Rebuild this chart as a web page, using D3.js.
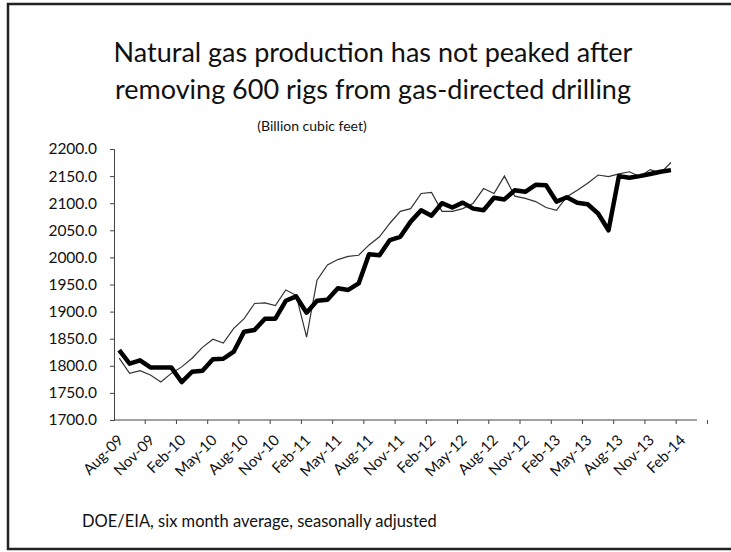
<!DOCTYPE html>
<html>
<head>
<meta charset="utf-8">
<script src="https://cdn.jsdelivr.net/npm/d3@7"></script>
<style>
  body { margin: 0; background: #fff; }
  svg text { font-family: Lato, "Open Sans", sans-serif; fill: #111; }
</style>
</head>
<body>
<div id="chart"></div>
<script>
const months = [
    "Aug-09", "Sep-09", "Oct-09", "Nov-09", "Dec-09", "Jan-10", "Feb-10", "Mar-10",
    "Apr-10", "May-10", "Jun-10", "Jul-10", "Aug-10", "Sep-10", "Oct-10", "Nov-10",
    "Dec-10", "Jan-11", "Feb-11", "Mar-11", "Apr-11", "May-11", "Jun-11", "Jul-11",
    "Aug-11", "Sep-11", "Oct-11", "Nov-11", "Dec-11", "Jan-12", "Feb-12", "Mar-12",
    "Apr-12", "May-12", "Jun-12", "Jul-12", "Aug-12", "Sep-12", "Oct-12", "Nov-12",
    "Dec-12", "Jan-13", "Feb-13", "Mar-13", "Apr-13", "May-13", "Jun-13", "Jul-13",
    "Aug-13", "Sep-13", "Oct-13", "Nov-13", "Dec-13", "Jan-14", "Feb-14", "Mar-14"
];
const tickLabels = [
    "Aug-09", "Nov-09", "Feb-10", "May-10", "Aug-10", "Nov-10", "Feb-11", "May-11",
    "Aug-11", "Nov-11", "Feb-12", "May-12", "Aug-12", "Nov-12", "Feb-13", "May-13",
    "Aug-13", "Nov-13", "Feb-14"
];
const yTicks = [1700, 1750, 1800, 1850, 1900, 1950, 2000, 2050, 2100, 2150, 2200];

// thin line
const thinSeries = [
    1814, 1786, 1791, 1783, 1770, 1786, 1798, 1814, 1834, 1849,
    1842, 1869, 1887, 1915, 1916, 1911, 1940, 1930, 1853, 1958,
    1986, 1996, 2002, 2004, 2023, 2038, 2063, 2085, 2090, 2118,
    2120, 2085, 2085, 2090, 2100, 2127, 2118, 2150, 2113, 2109,
    2103, 2092, 2087, 2112, 2124, 2137, 2152, 2149, 2154, 2158,
    2149, 2162, 2156, 2175
];
// bold line
const boldSeries = [
    1829, 1804, 1810, 1797, 1797, 1797, 1770, 1789, 1791, 1812,
    1813, 1826, 1863, 1866, 1887, 1887, 1920, 1928, 1898, 1920,
    1922, 1943, 1940, 1952, 2006, 2004, 2032, 2038, 2066, 2087,
    2077, 2100, 2092, 2101, 2090, 2087, 2110, 2107, 2124, 2121,
    2134, 2133, 2103, 2111, 2101, 2098, 2081, 2050, 2150, 2147,
    2150, 2154, 2158, 2161
];

const width = 731;
const height = 552;
const plot = { left: 114, right: 697, top: 149, bottom: 420 };

const svg = d3.select("#chart")
    .append("svg")
        .attr("width", width)
        .attr("height", height);

// frame
svg.append("rect")
    .attr("x", 8)
    .attr("y", 4)
    .attr("width", 740)
    .attr("height", 545)
    .attr("fill", "none")
    .attr("stroke", "#222")
    .attr("stroke-width", 2.5);

// titles
svg.append("text")
    .attr("x", 373)
    .attr("y", 62)
    .attr("text-anchor", "middle")
    .style("font-size", "27px")
    .text("Natural gas production has not peaked after");

svg.append("text")
    .attr("x", 373)
    .attr("y", 99)
    .attr("text-anchor", "middle")
    .style("font-size", "27px")
    .text("removing 600 rigs from gas-directed drilling");

svg.append("text")
    .attr("x", 312)
    .attr("y", 131)
    .attr("text-anchor", "middle")
    .style("font-size", "14px")
    .text("(Billion cubic feet)");

const x = d3.scaleBand()
    .domain(months)
    .range([plot.left, plot.right]);

const y = d3.scaleLinear()
    .domain([1700, 2200])
    .range([plot.bottom, plot.top]);

// y axis
const yAxis = svg.append("g")
    .attr("transform", `translate(${plot.left},0)`)
    .call(d3.axisLeft(y).tickValues(yTicks).tickFormat(d3.format(".1f")).tickSizeOuter(0).tickSize(4).tickPadding(13));
yAxis.select(".domain").attr("stroke", "#444");
yAxis.selectAll(".tick line").attr("stroke", "#444");
yAxis.selectAll("text")
    .style("font-size", "15.5px")
    .style("font-family", "Lato, sans-serif");

// x axis: ticks between categories, every third month
const xAxis = svg.append("g")
    .attr("transform", `translate(0,${plot.bottom})`);

xAxis.append("line")
    .attr("x1", plot.left)
    .attr("x2", plot.right)
    .attr("stroke", "#444");

xAxis.selectAll(".xtick")
    .data(tickLabels)
    .enter()
    .append("line")
        .attr("class", "xtick")
        .attr("x1", d => x(d) + x.bandwidth() * 3)
        .attr("x2", d => x(d) + x.bandwidth() * 3)
        .attr("y1", 0)
        .attr("y2", 4)
        .attr("stroke", "#444");

xAxis.selectAll(".xlabel")
    .data(tickLabels)
    .enter()
    .append("text")
        .attr("class", "xlabel")
        .attr("text-anchor", "end")
        .attr("transform", d => `translate(${x(d) + x.bandwidth() / 2 + 5},${21}) rotate(-45)`)
        .style("font-size", "15px")
        .text(d => d);

// lines
const line = d3.line()
    .x((d, i) => x(months[i]) + x.bandwidth() / 2)
    .y(d => y(d));

svg.append("path")
    .datum(thinSeries)
    .attr("fill", "none")
    .attr("stroke", "#333")
    .attr("stroke-width", 1.2)
    .attr("d", line);

svg.append("path")
    .datum(boldSeries)
    .attr("fill", "none")
    .attr("stroke", "#000")
    .attr("stroke-width", 4.5)
    .attr("stroke-linejoin", "round")
    .attr("d", line);

// source note
svg.append("text")
    .attr("x", 82)
    .attr("y", 527)
    .style("font-size", "16.5px")
    .text("DOE/EIA, six month average, seasonally adjusted");
</script>
</body>
</html>
